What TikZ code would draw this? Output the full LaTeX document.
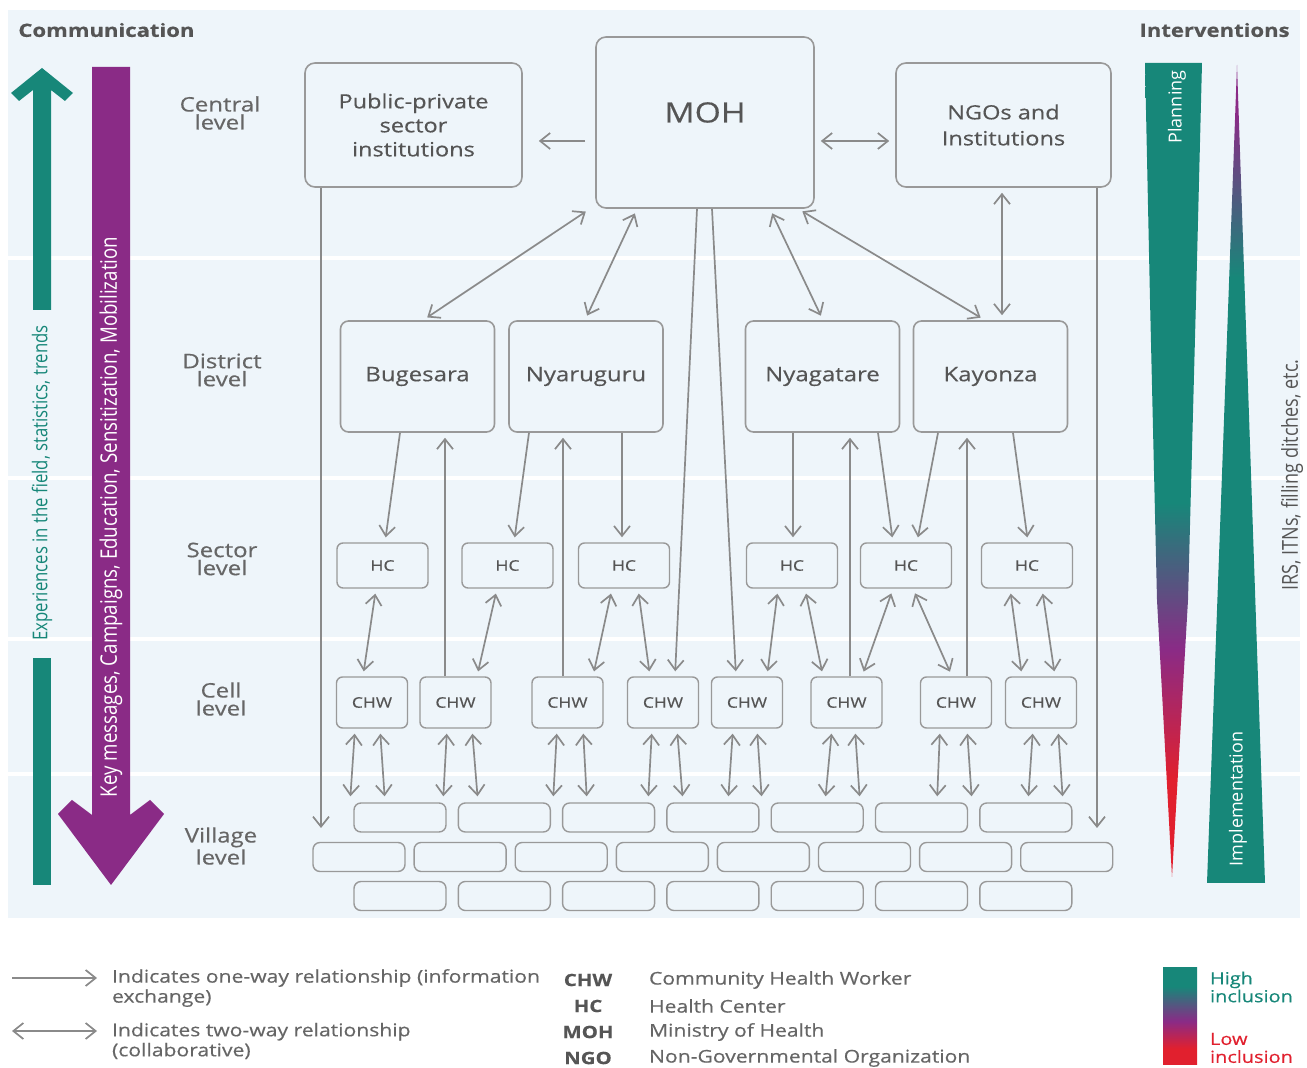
\documentclass[tikz,border=0pt]{standalone}
\usepackage{fontspec}
\usepackage{graphicx}
\setmainfont{Open Sans}[FakeStretch=1.2, FakeBold=0.4]
\newfontfamily\plainfont{Open Sans}
\newfontfamily\condfont{Open Sans}[FakeStretch=0.82]
\usetikzlibrary{arrows.meta}
\definecolor{tealc}{HTML}{178779}
\definecolor{purc}{HTML}{8A2B86}
\definecolor{redc}{HTML}{E1202E}
\definecolor{panel}{HTML}{EEF5FA}
\definecolor{boxc}{HTML}{999999}
\definecolor{linec}{HTML}{8A8A8A}
\definecolor{txtc}{HTML}{555555}
\definecolor{lvlc}{HTML}{666666}
\pgfdeclareverticalshading{leftwedge}{100bp}{color(0bp)=(redc); color(31bp)=(redc); color(39bp)=(purc); color(48bp)=(tealc); color(100bp)=(tealc)}
\pgfdeclareverticalshading{rightwedge}{100bp}{color(0bp)=(tealc); color(62bp)=(tealc); color(72bp)=(purc); color(100bp)=(purc)}
\pgfdeclareverticalshading{inclbar}{100bp}{color(0bp)=(redc); color(33bp)=(redc); color(47bp)=(purc); color(65bp)=(tealc); color(100bp)=(tealc)}
\tikzset{
  bigbox/.style={draw=boxc, fill=panel, line width=0.8pt, rounded corners=5pt, text=txtc, align=center},
  distbox/.style={bigbox, rounded corners=4pt, minimum width=77pt, minimum height=55.5pt, font=\fontsize{10}{12}\selectfont},
  smallbox/.style={draw=boxc, fill=panel, line width=0.7pt, rounded corners=3pt, text=txtc, font=\fontsize{7.3}{9}\selectfont},
  hcbox/.style={smallbox, minimum width=45.5pt, minimum height=22.5pt},
  chwbox/.style={smallbox, minimum width=35.5pt, minimum height=25.5pt},
  vilbox/.style={draw=boxc, fill=panel, line width=0.7pt, rounded corners=3.5pt, minimum width=46pt, minimum height=14.5pt},
  lvl/.style={text=lvlc, align=center, font=\fontsize{10}{9}\selectfont},
  conn/.style={draw=linec, line width=0.85pt},
  one/.style={conn, -{Straight Barb[length=5pt,width=8pt]}, shorten >=2.5pt},
  two/.style={conn, {Straight Barb[length=5pt,width=8pt]}-{Straight Barb[length=5pt,width=8pt]}, shorten >=2.5pt, shorten <=2.5pt},
  legtxt/.style={text=lvlc, anchor=west, align=left, font=\fontsize{8.8}{10}\selectfont},
  abbr/.style={text=txtc, font=\bfseries\fontsize{8.5}{10}\selectfont},
  title/.style={text=txtc, inner sep=0pt, font=\bfseries\fontsize{9.2}{10}\selectfont}
}
\begin{document}
\begin{tikzpicture}[x=0.5pt,y=-0.5pt]
\useasboundingbox (0,0) rectangle (1307,1068);
\fill[white] (0,0) rectangle (1307,1068);
\fill[panel] (8,10) rectangle (1300,918);
\foreach \yy in {258,478,639,774} \draw[white, line width=2pt] (8,\yy) -- (1300,\yy);

% titles
\node[title, anchor=west] (tcomm) at (18,30) {Communication};
\node[title, anchor=east] (tint) at (1290,30) {Interventions};

% communication arrows
\fill[tealc] (42,68) -- (73,93) -- (65,101) -- (51,90) -- (51,310) -- (33,310) -- (33,90) -- (19,101) -- (11,93) -- cycle;
\fill[tealc] (33,658) rectangle (51,885);
\node[rotate=90, text=tealc, font=\condfont\fontsize{10.2}{11}\selectfont] (exptxt) at (42,483) {Experiences in the field, statistics, trends};
\fill[purc] (92,67) -- (130,67) -- (130,815) -- (150,800) -- (164,814) -- (111,885) -- (58,814) -- (72,800) -- (92,815) -- cycle;
\node[rotate=90, text=white, font=\condfont\fontsize{11.4}{12}\selectfont] (keytxt) at (111,517) {Key messages, Campaigns, Education, Sensitization, Mobilization};

% interventions wedges
\shade[shading=leftwedge] (1145,63) -- (1202,63) -- (1196,300) -- (1188,600) -- (1172,877) -- (1157,600) -- (1150,300) -- cycle;
\shade[shading=rightwedge] (1237,65) -- (1265,883) -- (1207,883) -- cycle;
\node[rotate=90, text=white, font=\plainfont\fontsize{9}{10}\selectfont] (plantxt) at (1177,107) {Planning};
\node[rotate=90, text=white, font=\plainfont\fontsize{9}{10}\selectfont] (impltxt) at (1238,799) {Implementation};
\node[rotate=90, text=txtc, font=\condfont\fontsize{11}{12}\selectfont] (irstxt) at (1292,475) {IRS, ITNs, filling ditches, etc.};

% level labels
\node[lvl] (lcentral) at (220,113) {Central\\level};
\node[lvl] (ldistrict) at (222,370) {District\\level};
\node[lvl] (lsector) at (222,559) {Sector\\level};
\node[lvl] (lcell) at (221,699) {Cell\\level};
\node[lvl] (lvillage) at (221,846) {Village\\level};

% central boxes
\node[bigbox, minimum width=108.5pt, minimum height=62pt, font=\fontsize{9.8}{12}\selectfont] (pp) at (413.5,125) {Public-private\\sector\\institutions};
\node[bigbox, minimum width=109pt, minimum height=85.5pt, font=\fontsize{14}{16}\selectfont, text height=10pt, text depth=10pt] (moh) at (705,122.5) {MOH};
\node[bigbox, minimum width=107.5pt, minimum height=62pt, font=\fontsize{9.8}{13}\selectfont] (ngo) at (1003.5,125) {NGOs and\\Institutions};

% district boxes
\node[distbox] (bug) at (417.5,376.5) {Bugesara};
\node[distbox] (nya) at (586,376.5) {Nyaruguru};
\node[distbox] (nyg) at (822.5,376.5) {Nyagatare};
\node[distbox] (kay) at (990.5,376.5) {Kayonza};

% HC boxes
\node[hcbox] (hc1) at (382.5,565.5) {HC};
\node[hcbox] (hc2) at (507.5,565.5) {HC};
\node[hcbox] (hc3) at (624,565.5) {HC};
\node[hcbox] (hc4) at (792,565.5) {HC};
\node[hcbox] (hc5) at (906,565.5) {HC};
\node[hcbox] (hc6) at (1027,565.5) {HC};

% CHW boxes
\node[chwbox] (chw1) at (372,702.5) {CHW};
\node[chwbox] (chw2) at (455.5,702.5) {CHW};
\node[chwbox] (chw3) at (567.5,702.5) {CHW};
\node[chwbox] (chw4) at (663,702.5) {CHW};
\node[chwbox] (chw5) at (747,702.5) {CHW};
\node[chwbox] (chw6) at (846.5,702.5) {CHW};
\node[chwbox] (chw7) at (956,702.5) {CHW};
\node[chwbox] (chw8) at (1041,702.5) {CHW};

% village boxes
\foreach \i in {0,...,6} {
  \node[vilbox] (r1n\i) at ({400+104.3*\i},817.5) {};
  \node[vilbox] (r3n\i) at ({400+104.3*\i},896) {};
}
\foreach \i in {0,...,7} \node[vilbox] (r2n\i) at ({359+101.1*\i},857) {};

% central connectors
\draw[one, shorten <=5pt, shorten >=8pt] (moh.west |- 0,141) -- (pp.east |- 0,141);
\draw[two, shorten <=3pt, shorten >=3pt] (moh.east |- 0,141) -- (ngo.west |- 0,141);
\coordinate (ppend) at (321,828);
\coordinate (ngoend) at (1097,828);
\draw[one, shorten >=0pt] (321,0 |- pp.south) -- (ppend);
\draw[one, shorten >=0pt] (1097,0 |- ngo.south) -- (ngoend);
\draw[two] (1002,0 |- ngo.south) -- (1002,0 |- kay.north);
\draw[two] (590,0 |- moh.south) -- (423,0 |- bug.north);
\draw[two] (637,0 |- moh.south) -- (585,0 |- nya.north);
\draw[two] (770,0 |- moh.south) -- (823,0 |- nyg.north);
\draw[two] (798,0 |- moh.south) -- (985,0 |- kay.north);
\draw[one] (697,0 |- moh.south) -- (675,0 |- chw4.north);
\draw[one] (712,0 |- moh.south) -- (736,0 |- chw5.north);

% district - HC / CHW
\draw[one] (400,0 |- bug.south) -- (385,0 |- hc1.north);
\draw[one] (445,0 |- chw2.north) -- (445,0 |- bug.south);
\draw[one] (529,0 |- nya.south) -- (514,0 |- hc2.north);
\draw[one] (563,0 |- chw3.north) -- (563,0 |- nya.south);
\draw[one] (622,0 |- nya.south) -- (622,0 |- hc3.north);
\draw[one] (793,0 |- nyg.south) -- (793,0 |- hc4.north);
\draw[one] (850,0 |- chw6.north) -- (850,0 |- nyg.south);
\draw[one] (878,0 |- nyg.south) -- (893,0 |- hc5.north);
\draw[one] (938,0 |- kay.south) -- (917,0 |- hc5.north);
\draw[one] (967,0 |- chw7.north) -- (967,0 |- kay.south);
\draw[one] (1013,0 |- kay.south) -- (1028,0 |- hc6.north);

% HC - CHW
\draw[two] (376,0 |- hc1.south) -- (363,0 |- chw1.north);
\draw[two] (497,0 |- hc2.south) -- (477,0 |- chw2.north);
\draw[two] (612,0 |- hc3.south) -- (593,0 |- chw3.north);
\draw[two] (638,0 |- hc3.south) -- (650,0 |- chw4.north);
\draw[two] (778,0 |- hc4.south) -- (767,0 |- chw5.north);
\draw[two] (805,0 |- hc4.south) -- (823,0 |- chw6.north);
\draw[two] (893,0 |- hc5.south) -- (862,0 |- chw6.north);
\draw[two] (913,0 |- hc5.south) -- (952,0 |- chw7.north);
\draw[two] (1010,0 |- hc6.south) -- (1022,0 |- chw8.north);
\draw[two] (1042,0 |- hc6.south) -- (1055,0 |- chw8.north);

% CHW - village
\foreach \c/\a/\b in {chw1/355/350, chw1/380/385, chw2/447/443, chw2/472/478,
  chw3/557/553, chw3/583/587, chw4/652/648, chw4/677/683,
  chw5/733/728, chw5/757/762, chw6/832/825, chw6/855/860,
  chw7/940/937, chw7/967/972, chw8/1033/1028, chw8/1058/1063}
  \draw[two, shorten >=3pt] (\a,0 |- \c.south) -- (\b,0 |- r1n0.north);

% legend
\coordinate (la1) at (12,978);
\coordinate (la2) at (97,978);
\coordinate (lb1) at (12,1031);
\coordinate (lb2) at (97,1031);
\draw[one, shorten >=0pt] (la1) -- (la2);
\draw[two, shorten >=0pt, shorten <=0pt] (lb1) -- (lb2);
\node[legtxt] (lt1) at (105,988) {Indicates one-way relationship (information\\exchange)};
\node[legtxt] (lt2) at (105,1041) {Indicates two-way relationship\\(collaborative)};
\node[abbr] (abchw) at (588,980) {CHW};
\node[abbr] (abhc) at (588,1006) {HC};
\node[abbr] (abmoh) at (588,1032) {MOH};
\node[abbr] (abngo) at (588,1058) {NGO};
\node[legtxt] (dfchw) at (642,980) {Community Health Worker};
\node[legtxt] (dfhc) at (642,1006) {Health Center};
\node[legtxt] (dfmoh) at (642,1032) {Ministry of Health};
\node[legtxt] (dfngo) at (642,1058) {Non-Governmental Organization};
\node[shading=inclbar, minimum width=17pt, minimum height=48.5pt, inner sep=0] (incbar) at (1180,1015.5) {};
\node[legtxt, text=tealc, font=\fontsize{8.3}{9}\selectfont] (hightxt) at (1203,987) {High\\inclusion};
\node[legtxt, text=redc, font=\fontsize{8.3}{9}\selectfont] (lowtxt) at (1203,1048) {Low\\inclusion};
\end{tikzpicture}
\end{document}
